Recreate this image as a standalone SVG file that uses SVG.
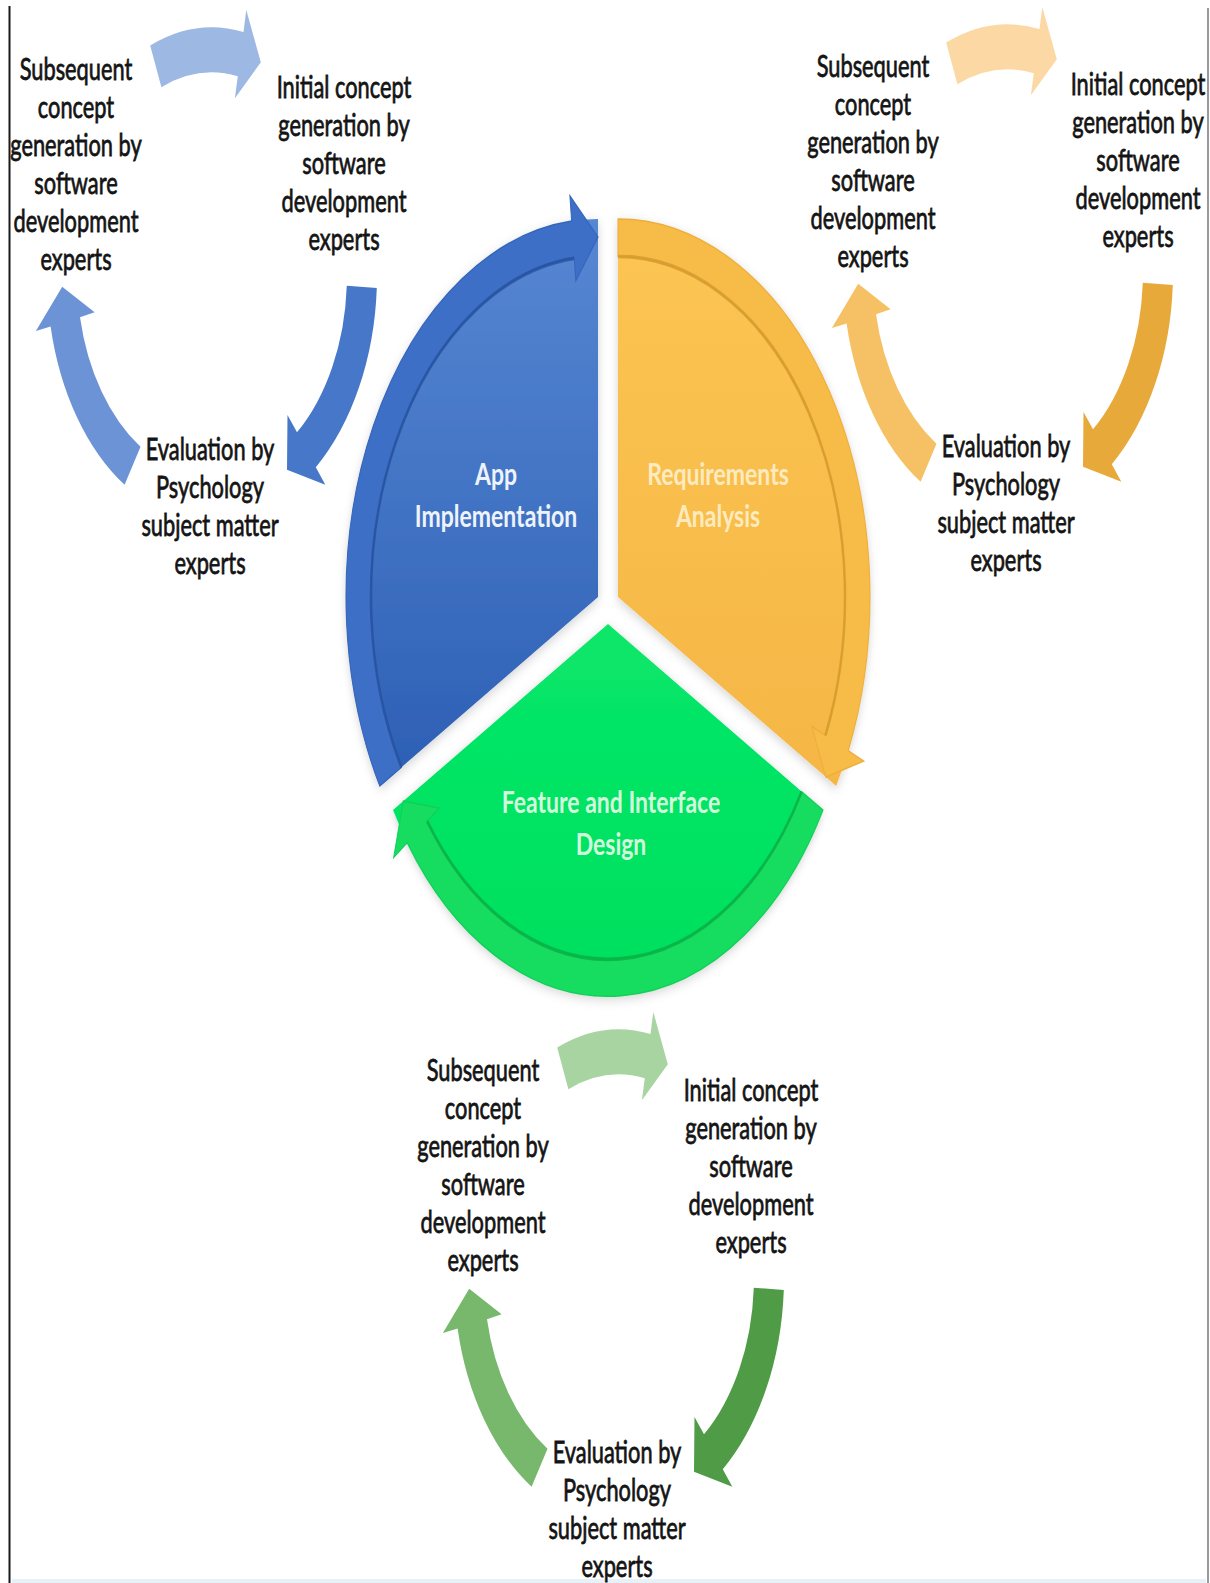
<svg xmlns="http://www.w3.org/2000/svg" xmlns:xlink="http://www.w3.org/1999/xlink" width="1210" height="1583" viewBox="0 0 1210 1583">
<style>
.lbl { font-family: Lato, "Liberation Sans", Arial, sans-serif; font-size: 21.8px; fill: #141414; stroke: #141414; stroke-width: 0.55px; text-anchor: middle; }
.pie { font-family: Lato, "Liberation Sans", Arial, sans-serif; font-size: 23px; font-weight: bold; text-anchor: middle; }
.nsk { vector-effect: non-scaling-stroke; }
</style>
<defs>
  <linearGradient id="gBlue" x1="0" y1="0" x2="0" y2="1">
    <stop offset="0" stop-color="#5787d3"/>
    <stop offset="1" stop-color="#2c5fb4"/>
  </linearGradient>
  <linearGradient id="gOrange" x1="0" y1="0" x2="0" y2="1">
    <stop offset="0" stop-color="#fcc553"/>
    <stop offset="1" stop-color="#f5b645"/>
  </linearGradient>
  <linearGradient id="gGreen" x1="0" y1="0" x2="0" y2="1">
    <stop offset="0" stop-color="#08e769"/>
    <stop offset="1" stop-color="#00df5e"/>
  </linearGradient>
  <filter id="soft" x="-15%" y="-15%" width="130%" height="130%">
    <feDropShadow dx="0" dy="2" stdDeviation="4" flood-color="#000000" flood-opacity="0.18"/>
  </filter>
  <path id="ringArrow" d="M 0,-252 A 252 252 0 0 1 230.2,102.5 L 245.7,109.4 L 207.8,120 L 193.7,86.2 L 207.4,92.3 A 227 227 0 0 0 0,-227 Z"/>
  <path id="ringInner" d="M 0,-227 A 227 227 0 0 1 207.4,92.3"/>
  <path id="cT" d="M -61.8,-153.0 A 165 165 0 0 1 31.5,-162.0 L 34.3,-176.7 L 48.8,-141.8 L 22.9,-117.8 L 25.8,-132.5 A 135 135 0 0 0 -50.6,-125.2 Z"/>
  <path id="cR" d="M 164.8,8.6 A 165 165 0 0 1 103.8,128.2 L 113.3,139.9 L 75,129.9 L 75.5,93.3 L 85.0,104.9 A 135 135 0 0 0 134.8,7.1 Z"/>
  <path id="cL" d="M -87.4,139.9 A 165 165 0 0 1 -161.4,34.3 L -176.1,37.4 L -149.8,7.8 L -117.4,24.9 L -132.0,28.1 A 135 135 0 0 0 -71.5,114.5 Z"/>
</defs>

<rect x="0" y="0" width="1210" height="1583" fill="#ffffff"/>
<line x1="9.5" y1="6" x2="9.5" y2="1583" stroke="#1a1a1a" stroke-width="2"/>
<line x1="1208" y1="8" x2="1208" y2="1583" stroke="#777777" stroke-width="1.5"/>
<rect x="12" y="1579" width="1194" height="4" fill="#e6f2f7"/>

<!-- Central pie sectors -->
<g id="sector-app-implementation">
  <g transform="translate(598,597) scale(1,1.5)">
    <path d="M 0,0 L -218.24,126 A 252 252 0 0 1 0,-252 Z" fill="url(#gBlue)" filter="url(#soft)"/>
  </g>
  <text class="pie" fill="#eef3fb" transform="translate(496,485) scale(1,1.3)"><tspan x="0" y="0">App</tspan><tspan x="0" y="32.3">Implementation</tspan></text>
</g>
<g id="sector-requirements-analysis">
  <g transform="translate(618,597) scale(1,1.5)">
    <path d="M 0,0 L 0,-252 A 252 252 0 0 1 218.24,126 Z" fill="url(#gOrange)" filter="url(#soft)"/>
  </g>
  <text class="pie" fill="#fdebbf" transform="translate(718,485) scale(1,1.3)"><tspan x="0" y="0">Requirements</tspan><tspan x="0" y="32.3">Analysis</tspan></text>
</g>
<g id="sector-feature-interface-design">
  <g transform="translate(608,624) scale(0.985,1.477)">
    <path d="M 0,0 L 218.24,126 A 252 252 0 0 1 -218.24,126 Z" fill="url(#gGreen)" filter="url(#soft)"/>
  </g>
  <text class="pie" fill="#d2fadc" transform="translate(611,813) scale(1,1.3)"><tspan x="0" y="0">Feature and Interface</tspan><tspan x="0" y="32.3">Design</tspan></text>
</g>

<g id="connectors">
  <!-- ring arrows on the pie -->
  <g transform="translate(598,597) scale(1,1.5) rotate(240)">
    <use xlink:href="#ringArrow" fill="#3d6fc6" stroke="#3366bb" stroke-width="1" class="nsk"/>
    <use xlink:href="#ringInner" fill="none" stroke="#244f98" stroke-width="2.5" stroke-opacity="0.7"/>
  </g>
  <g transform="translate(618,597) scale(1,1.5)">
    <use xlink:href="#ringArrow" fill="#f7bb47" stroke="#eeae3a" stroke-width="1"/>
    <use xlink:href="#ringInner" fill="none" stroke="#cf962a" stroke-width="2.5" stroke-opacity="0.7"/>
  </g>
  <g transform="translate(608,624) scale(0.985,1.477) rotate(120)">
    <use xlink:href="#ringArrow" fill="#16dd5f" stroke="#10d058" stroke-width="1"/>
    <use xlink:href="#ringInner" fill="none" stroke="#08a842" stroke-width="2.5" stroke-opacity="0.7"/>
  </g>

  <!-- left (blue) cycle -->
  <g transform="translate(212,275) scale(1,1.5)">
    <use xlink:href="#cT" fill="#9db8e3"/>
    <use xlink:href="#cR" fill="#4677c8"/>
    <use xlink:href="#cL" fill="#6d93d7"/>
  </g>
  <!-- right (orange) cycle -->
  <g transform="translate(1008,272) scale(1,1.5)">
    <use xlink:href="#cT" fill="#fcd8a4"/>
    <use xlink:href="#cR" fill="#e8a93b"/>
    <use xlink:href="#cL" fill="#f6c165"/>
  </g>
  <!-- bottom (green) cycle -->
  <g transform="translate(619,1277) scale(1,1.5)">
    <use xlink:href="#cT" fill="#a8d4a1"/>
    <use xlink:href="#cR" fill="#4f9b46"/>
    <use xlink:href="#cL" fill="#77b86d"/>
  </g>
</g>

<!-- Left cluster labels -->
<g id="left-subsequent">
  <text class="lbl" transform="translate(76,80) scale(1,1.38)"><tspan x="0" y="0">Subsequent</tspan><tspan x="0" y="27.54">concept</tspan><tspan x="0" y="55.07">generation by</tspan><tspan x="0" y="82.61">software</tspan><tspan x="0" y="110.14">development</tspan><tspan x="0" y="137.68">experts</tspan></text>
</g>
<g id="left-initial">
  <text class="lbl" transform="translate(344,98) scale(1,1.38)"><tspan x="0" y="0">Initial concept</tspan><tspan x="0" y="27.54">generation by</tspan><tspan x="0" y="55.07">software</tspan><tspan x="0" y="82.61">development</tspan><tspan x="0" y="110.14">experts</tspan></text>
</g>
<g id="left-evaluation">
  <text class="lbl" transform="translate(210,460) scale(1,1.38)"><tspan x="0" y="0">Evaluation by</tspan><tspan x="0" y="27.54">Psychology</tspan><tspan x="0" y="55.07">subject matter</tspan><tspan x="0" y="82.61">experts</tspan></text>
</g>

<!-- Right cluster labels -->
<g id="right-subsequent">
  <text class="lbl" transform="translate(873,77) scale(1,1.38)"><tspan x="0" y="0">Subsequent</tspan><tspan x="0" y="27.54">concept</tspan><tspan x="0" y="55.07">generation by</tspan><tspan x="0" y="82.61">software</tspan><tspan x="0" y="110.14">development</tspan><tspan x="0" y="137.68">experts</tspan></text>
</g>
<g id="right-initial">
  <text class="lbl" transform="translate(1138,95) scale(1,1.38)"><tspan x="0" y="0">Initial concept</tspan><tspan x="0" y="27.54">generation by</tspan><tspan x="0" y="55.07">software</tspan><tspan x="0" y="82.61">development</tspan><tspan x="0" y="110.14">experts</tspan></text>
</g>
<g id="right-evaluation">
  <text class="lbl" transform="translate(1006,457) scale(1,1.38)"><tspan x="0" y="0">Evaluation by</tspan><tspan x="0" y="27.54">Psychology</tspan><tspan x="0" y="55.07">subject matter</tspan><tspan x="0" y="82.61">experts</tspan></text>
</g>

<!-- Bottom cluster labels -->
<g id="bottom-subsequent">
  <text class="lbl" transform="translate(483,1081) scale(1,1.38)"><tspan x="0" y="0">Subsequent</tspan><tspan x="0" y="27.54">concept</tspan><tspan x="0" y="55.07">generation by</tspan><tspan x="0" y="82.61">software</tspan><tspan x="0" y="110.14">development</tspan><tspan x="0" y="137.68">experts</tspan></text>
</g>
<g id="bottom-initial">
  <text class="lbl" transform="translate(751,1101) scale(1,1.38)"><tspan x="0" y="0">Initial concept</tspan><tspan x="0" y="27.54">generation by</tspan><tspan x="0" y="55.07">software</tspan><tspan x="0" y="82.61">development</tspan><tspan x="0" y="110.14">experts</tspan></text>
</g>
<g id="bottom-evaluation">
  <text class="lbl" transform="translate(617,1463) scale(1,1.38)"><tspan x="0" y="0">Evaluation by</tspan><tspan x="0" y="27.54">Psychology</tspan><tspan x="0" y="55.07">subject matter</tspan><tspan x="0" y="82.61">experts</tspan></text>
</g>
</svg>
